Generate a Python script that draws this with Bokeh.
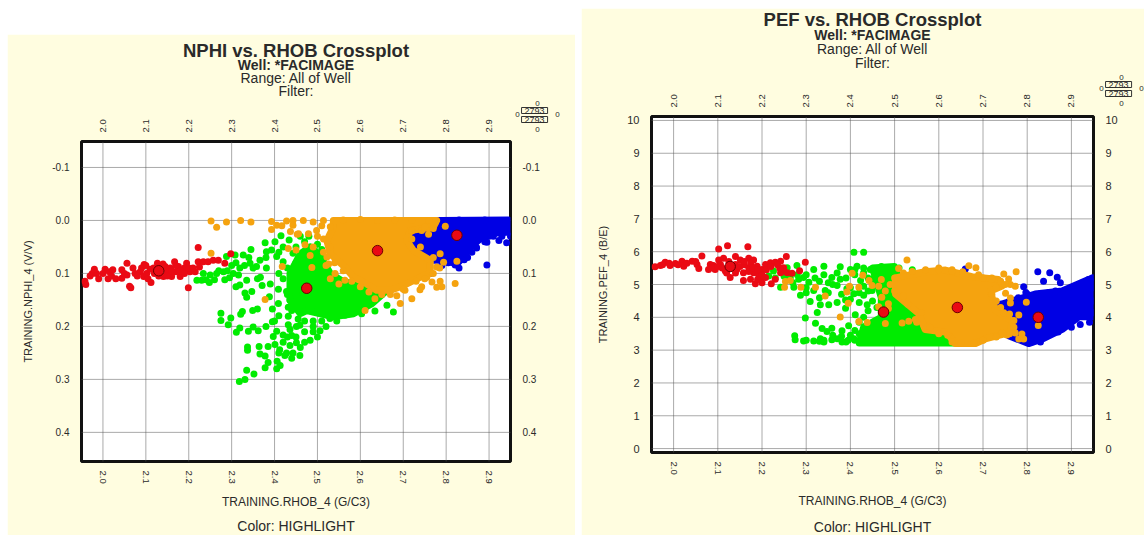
from bokeh.plotting import figure
from bokeh.layouts import row, column, Spacer
from bokeh.models import Range1d, LinearAxis, FixedTicker, Title
from bokeh.embed import file_html
from bokeh.resources import INLINE

RHOB_TICKS = [2.0, 2.1, 2.2, 2.3, 2.4, 2.5, 2.6, 2.7, 2.8, 2.9]
RHOB_LABELS = ["2.0", "2.1", "2.2", "2.3", "2.4", "2.5", "2.6", "2.7", "2.8", "2.9"]
NPHI_TICKS = [-0.1, 0.0, 0.1, 0.2, 0.3, 0.4]
NPHI_LABELS = ["-0.1", "0.0", "0.1", "0.2", "0.3", "0.4"]
PEF_TICKS = [0, 1, 2, 3, 4, 5, 6, 7, 8, 9, 10]
PEF_LABELS = ["0", "1", "2", "3", "4", "5", "6", "7", "8", "9", "10"]

# ---------- NPHI vs RHOB: (RHOB, NPHI) ----------
n_red = [(1.958,.115),(1.96,.121),(1.975,.10),(1.985,.10),(1.99,.11),(2.005,.092),(2.015,.097),(2.012,.11),(2.02,.105),
 (2.023,.093),(2.044,.093),(2.056,.081),(2.044,.109),(2.056,.103),(2.062,.124),(2.065,.127),(2.075,.10),(2.087,.097),
 (2.096,.083),(2.095,.106),(2.102,.10),(2.112,.117),(2.127,.081),(2.118,.09),(2.13,.095),(2.141,.106),(2.145,.087),
 (2.157,.09),(2.16,.106),(2.167,.078),(2.18,.106),(2.176,.087),(2.195,.081),(2.19,.09),(2.203,.097),(2.215,.097),
 (2.199,.127),(2.222,.051),(2.222,.078),(2.234,.078),(2.245,.078),(2.257,.075),(2.269,.075),(2.284,.081),(2.298,.063),
 (2.135,.09),(2.15,.097),(2.17,.097),(2.185,.098),(2.11,.092),
 (1.97,.105),(1.98,.092),(2.0,.1),(2.03,.11),(2.05,.1),(2.07,.09),(2.08,.105),(2.09,.09),(2.1,.085),(2.105,.11),(2.12,.1),
 (2.13,.105),(2.14,.082),(2.15,.105),(2.16,.095),(2.17,.085),(2.18,.095),(2.19,.1),(2.2,.09),(2.21,.09),(2.225,.088)]
n_green = [(2.219,.113),(2.23,.113),(2.248,.117),(2.234,.10),(2.25,.103),(2.265,.10),(2.281,.097),(2.284,.112),(2.295,.108),
 (2.304,.10),(2.319,.09),(2.316,.103),(2.288,.068),(2.308,.065),(2.327,.065),(2.345,.055),(2.343,.081),(2.366,.075),
 (2.358,.087),(2.378,.042),(2.401,.04),(2.415,.029),(2.434,.037),(2.381,.059),(2.393,.056),(2.405,.068),(2.381,.09),
 (2.42,.078),(2.443,.062),(2.367,.107),(2.371,.123),(2.335,.113),(2.319,.122),(2.31,.125),(2.331,.137),(2.347,.134),
 (2.335,.145),(2.388,.144),(2.409,.13),(2.428,.134),(2.443,.131),(2.436,.15),(2.409,.157),(2.432,.164),(2.451,.159),
 (2.395,.167),(2.36,.167),(2.349,.17),(2.325,.172),(2.321,.177),(2.275,.175),(2.275,.189),(2.298,.184),(2.292,.197),
 (2.395,.191),(2.432,.181),(2.455,.186),(2.432,.197),(2.339,.209),(2.35,.201),(2.362,.208),(2.319,.203),(2.311,.211),
 (2.405,.209),(2.42,.216),(2.436,.206),(2.451,.2),(2.397,.219),(2.337,.239),(2.337,.245),(2.364,.238),(2.385,.238),
 (2.401,.234),(2.412,.244),(2.428,.25),(2.443,.25),(2.451,.231),(2.366,.252),(2.378,.256),(2.385,.268),(2.406,.266),
 (2.378,.278),(2.405,.28),(2.335,.283),(2.352,.29),(2.331,.30),(2.318,.304),(2.634,.171),(2.662,.16),(2.677,.173),
 (2.603,.176),(2.459,.198),(2.506,.208),(2.483,.226),(2.529,.185),(2.564,.179),(2.436,.236),(2.459,.255),(2.424,.255),
 (2.413,.274),(2.47,.21),(2.44,.217),(2.52,.2),(2.49,.19),(2.545,.19),(2.41,.1),(2.43,.09),(2.45,.05),(2.47,.04),
 (2.41,.06),(2.42,.11),(2.44,.105),(2.45,.08),(2.46,.12),(2.43,.14),(2.45,.14),(2.41,.18),(2.44,.17),(2.47,.19),(2.49,.2),
 (2.51,.19),(2.54,.18),(2.57,.17),(2.6,.165),(2.63,.15),(2.65,.14),(2.48,.07),(2.50,.08),(2.52,.12),(2.42,.05),(2.46,.03),
 (2.48,.03),(2.5,.045),(2.51,.055),(2.38,.07),(2.36,.11),(2.39,.12),(2.4,.19),(2.38,.2),(2.42,.23),(2.41,.25),(2.43,.22),
 (2.45,.22),(2.47,.23),(2.49,.21),(2.5,.22),(2.44,.26),(2.46,.24),(2.24,.112),(2.26,.112),(2.27,.095),(2.29,.095),(2.3,.085),
 (2.31,.08),(2.33,.085),(2.34,.07),(2.35,.09)]
n_orange = [(2.252,.001),(2.265,.013),(2.288,.003),(2.321,0),(2.345,.003),(2.393,.002),(2.405,.009),(2.417,.01),(2.428,.001),
 (2.443,0),(2.443,.009),(2.393,.017),(2.437,.021),(2.453,.026),(2.252,.062),(2.418,.087),(2.378,.149),(2.432,.053),
 (2.45,.056),(2.467,0),(2.49,.003),(2.514,0),(2.456,.025),(2.479,.025),(2.498,.019),(2.471,.046),(2.483,.066),(2.514,.06),
 (2.514,.035),(2.522,.069),(2.526,.082),(2.541,.10),(2.487,.089),(2.564,.113),(2.634,.148),(2.611,.17),(2.693,.157),
 (2.72,.148),(2.685,.142),(2.704,.132),(2.743,.125),(2.739,.131),(2.778,.126),(2.79,.125),(2.821,.119),(2.786,.115),
 (2.767,.116),(2.755,.107),(2.759,.026),(2.743,.019),(2.798,.011),(2.786,.063),(2.825,.077),(2.778,.088),(2.794,.079),
 (2.56,-.001),(2.6,-.002),(2.64,0),(2.68,-.001),(2.72,0),(2.76,0),(2.775,.003),(2.53,.012),
 (2.53,.05),(2.54,.08),(2.56,.095),(2.58,.115),(2.6,.125),(2.62,.135),(2.65,.14),(2.67,.14),(2.7,.13),(2.73,.115),(2.75,.11),
 (2.77,.1),(2.785,.09),(2.77,.07),(2.74,.05),(2.72,.035),(2.72,.02),(2.75,.012),(2.77,.015),(2.51,.01),(2.5,.03),(2.49,.05),
 (2.52,.085),(2.53,.11),(2.55,.12)]
n_blue = [(2.895,.084),(2.941,.042),(2.923,.038),(2.895,.041),(2.871,.052),(2.842,.074),(2.821,.084),(2.763,.10),
 (2.8,0),(2.83,-.001),(2.86,0),(2.89,-.001),(2.92,0),(2.94,.002),(2.925,.015),(2.86,.06),(2.9,.03),(2.805,.08),
 (2.73,.055),(2.75,.07),(2.79,.085),(2.83,.09),(2.85,.07),(2.87,.05),(2.89,.04),(2.91,.03),(2.93,.03),(2.95,.03),(2.71,.03),
 (2.72,.05),(2.74,.015)]
n_orange_core = [(2.537,0),(2.778,0),(2.77,.0126),(2.716,.019),(2.708,.038),(2.724,.057),(2.763,.075),(2.763,.10),(2.747,.104),
 (2.70,.123),(2.669,.132),(2.638,.132),(2.615,.12),(2.584,.107),(2.564,.088),(2.53,.063),(2.522,.038),(2.537,.0126)]
n_blue_core = [(2.712,.025),(2.755,.003),(2.786,0),(2.945,-.001),(2.948,.022),(2.91,.024),(2.879,.035),(2.856,.05),(2.84,.069),
 (2.825,.082),(2.794,.075),(2.77,.075),(2.747,.063),(2.716,.047)]
n_green_core = [(2.436,.10),(2.46,.063),(2.483,.05),(2.506,.066),(2.53,.10),(2.561,.116),(2.615,.123),(2.662,.132),(2.627,.157),
 (2.584,.176),(2.537,.182),(2.475,.17),(2.46,.176),(2.436,.151)]
n_centers = [(2.13,.095),(2.475,.128),(2.64,.057),(2.825,.028)]

# ---------- PEF vs RHOB: (RHOB, PEF) ----------
f_red = [(1.958,5.54),(1.97,5.58),(1.981,5.68),(1.992,5.58),(2.004,5.64),(2.019,5.71),(2.023,5.56),(2.042,5.71),(2.053,5.61),
 (2.057,5.49),(2.064,5.87),(2.083,5.61),(2.079,5.46),(2.102,6.08),(2.122,6.18),(2.168,6.15),(2.102,5.75),(2.113,5.8),
 (2.094,5.46),(2.106,5.61),(2.117,5.41),(2.128,5.21),(2.14,5.85),(2.143,5.46),(2.158,5.36),(2.158,5.12),(2.151,5.75),
 (2.17,5.8),(2.181,5.75),(2.17,5.51),(2.189,5.56),(2.181,5.36),(2.174,5.16),(2.185,5.02),(2.196,5.16),(2.2,5.46),
 (2.208,5.61),(2.219,5.66),(2.23,5.68),(2.242,5.71),(2.255,5.85),(2.208,5.21),(2.23,5.16),(2.221,5.02),(2.249,5.41),
 (2.242,5.36),(2.257,5.36),(2.249,5.51),(2.268,5.34),(2.285,5.42),(2.298,5.68),(2.14,5.61),(2.125,5.7),(2.192,5.31),
 (2.09,5.58),(2.13,5.5),(2.16,5.6),(2.175,5.65),
 (1.975,5.6),(1.99,5.65),(2.01,5.6),(2.03,5.65),(2.05,5.7),(2.09,5.5),(2.1,5.55),(2.11,5.5),(2.12,5.35),(2.14,5.35),(2.15,5.55),
 (2.16,5.7),(2.17,5.4),(2.18,5.5),(2.19,5.45),(2.2,5.3),(2.19,5.15),(2.2,5.05),(2.21,5.45),(2.22,5.55),(2.24,5.5),(2.235,5.6)]
f_green = [(2.408,5.98),(2.43,5.98),(2.215,5.26),(2.226,5.41),(2.242,4.92),(2.257,5.51),(2.279,5.58),(2.264,5.21),(2.272,4.92),
 (2.283,5.16),(2.294,5.21),(2.317,5.46),(2.34,5.56),(2.306,5.07),(2.287,4.67),(2.317,4.82),(2.309,4.48),(2.332,4.38),
 (2.351,4.38),(2.325,4.15),(2.298,3.98),(2.321,3.82),(2.377,5.54),(2.4,5.46),(2.358,5.21),(2.377,5.16),(2.37,4.97),
 (2.392,4.87),(2.343,4.82),(2.389,4.53),(2.389,4.28),(2.411,4.08),(2.396,3.74),(2.336,3.66),(2.347,3.57),(2.358,3.67),
 (2.381,3.59),(2.274,3.44),(2.275,3.32),(2.294,3.28),(2.317,3.28),(2.332,3.35),(2.34,3.25),(2.358,3.32),(2.381,3.25),
 (2.395,3.3),(2.408,3.35),(2.415,5.56),(2.43,5.36),(2.423,5.12),(2.408,4.72),(2.438,4.38),(2.445,5.46),(2.449,5.16),
 (2.43,4.67),(2.449,4.82),(2.33,5.1),(2.3,5.3),(2.36,5.0),(2.41,5.3),(2.43,4.95),(2.4,4.55),(2.3,4.75),(2.33,4.6),
 (2.27,5.05),(2.51,5.5),(2.54,5.45),(2.47,5.55),
 (2.3,4.9),(2.34,5.3),(2.37,5.35),(2.39,5.2),(2.41,5.45),(2.43,5.5),(2.44,5.2),(2.45,5.0),(2.44,4.8),(2.42,4.75),(2.45,4.5),
 (2.46,4.3),(2.44,4.2),(2.43,4.0),(2.42,3.85),(2.41,3.6),(2.4,3.45),(2.38,3.42),(2.36,3.45),(2.42,4.45),(2.35,5.05),(2.32,5.2),
 (2.28,5.3),(2.25,5.25),(2.23,5.2),(2.35,4.75),(2.38,4.7),(2.37,4.45),(2.4,4.9),(2.34,3.3),(2.3,3.3),(2.33,3.27),(2.37,3.35),
 (2.39,3.25),(2.41,3.3),(2.42,3.5),(2.47,5.3),(2.48,5.0),(2.52,5.0),(2.51,4.7),(2.55,4.6),(2.53,4.5),(2.56,4.3),(2.57,4.1),
 (2.56,3.95),(2.55,3.7),(2.58,3.6),(2.6,3.55),(2.62,3.4)]
f_orange = [(2.253,5.09),(2.264,5.12),(2.251,4.92),(2.288,4.92),(2.321,4.92),(2.343,4.65),(2.404,5.34),(2.428,5.28),(2.392,4.77),
 (2.398,4.95),(2.419,4.92),(2.395,4.43),(2.377,4.01),(2.419,3.87),(2.438,3.84),(2.442,5.12),(2.449,4.97),(2.528,5.75),
 (2.509,5.49),(2.464,4.95),(2.479,4.8),(2.471,4.61),(2.486,4.41),(2.486,4.27),(2.464,4.32),(2.479,3.81),(2.517,3.83),
 (2.532,3.88),(2.547,3.93),(2.668,5.57),(2.684,5.51),(2.654,5.39),(2.747,5.32),(2.775,5.39),(2.758,5.17),(2.762,5.0),
 (2.773,4.95),(2.751,4.73),(2.762,4.59),(2.762,4.44),(2.798,4.46),(2.747,4.14),(2.781,4.07),(2.825,3.75),(2.743,3.54),
 (2.754,3.46),(2.773,3.52),(2.788,3.49),(2.781,3.34),(2.792,3.34),(2.52,5.35),(2.6,5.5),(2.63,5.45),(2.7,5.2),(2.72,5.2),
 (2.5,5.2),(2.52,5.25),(2.54,5.4),(2.57,5.45),(2.6,5.45),(2.63,5.4),(2.66,5.25),(2.69,5.3),(2.72,5.15),(2.74,5.1),(2.75,5.0),
 (2.73,4.9),(2.72,4.7),(2.73,4.5),(2.74,4.3),(2.76,4.1),(2.77,3.9),(2.77,3.7),(2.76,3.5),(2.73,3.4),(2.7,3.3),(2.68,3.22),
 (2.65,3.22),(2.63,3.25),(2.62,3.45),(2.6,3.5),(2.58,3.7),(2.55,3.85),(2.56,4.15),(2.53,4.4),(2.52,4.65),(2.5,4.8),(2.49,5.0),
 (2.47,5.15)]
f_blue = [(2.66,5.47),(2.719,4.76),(2.721,4.51),(2.792,4.93),(2.797,4.76),(2.824,5.39),(2.851,5.36),(2.868,5.22),(2.837,5.1),
 (2.875,5.05),(2.92,3.78),(2.941,3.85),(2.849,4.76),(2.864,4.8),(2.886,4.8),(2.905,4.82),(2.92,4.95),(2.939,5.15),
 (2.947,5.2),(2.9,3.7),(2.87,3.55),(2.83,3.25),
 (2.74,4.4),(2.76,4.5),(2.78,4.6),(2.8,4.7),(2.83,4.72),(2.85,4.7),(2.88,4.7),(2.9,4.7),(2.92,4.8),(2.93,5.0),(2.945,5.1),
 (2.95,4.9),(2.95,4.5),(2.95,4.15),(2.93,4.15),(2.91,4.0),(2.89,3.8),(2.87,3.65),(2.85,3.5),(2.83,3.35),(2.81,3.25),(2.79,3.3),
 (2.77,3.4),(2.9,4.3)]
f_orange_core = [(2.502,5.2),(2.569,5.39),(2.615,5.44),(2.675,5.24),(2.735,5.15),(2.743,4.95),(2.717,4.8),(2.728,4.22),(2.766,3.88),
 (2.762,3.54),(2.705,3.34),(2.683,3.2),(2.637,3.2),(2.618,3.54),(2.569,3.63),(2.554,4.12),(2.502,4.71)]
f_blue_core = [(2.735,4.37),(2.818,4.71),(2.879,4.8),(2.939,5.15),(2.95,5.2),(2.95,4.02),(2.917,4.02),(2.879,3.63),(2.834,3.34),
 (2.803,3.2),(2.758,3.44),(2.743,4.02)]
f_green_core = [(2.45,5.5),(2.5,5.55),(2.51,5.1),(2.56,4.71),(2.57,4.2),(2.57,3.63),(2.618,3.63),(2.637,3.22),(2.42,3.22),
 (2.43,3.7),(2.47,4.0),(2.47,4.6)]
f_centers = [(2.128,5.55),(2.475,4.16),(2.642,4.3),(2.825,4.0)]

RED, GREEN, ORANGE, BLUE = "#EA0A14", "#00EC00", "#F5A30F", "#0000E4"
CREAM = "#FFFDE0"
TEXT = "#2a2a2a"
FONT = "Liberation Sans"
BOX = "2793"
AXIS_BAND = 24


def xs(v):
    return [a for a, b in v]


def ys(v):
    return [b for a, b in v]


def panel(origin, size, frame, yrange, yticks, ylabels, ylab, yfont, layers, centers, top, gap_to, bottom, box):
    ox, oy = origin
    w, h = size
    l, t, r, b = frame
    fl, ft, fr, fb = l - ox, t - oy, r - ox, b - oy
    p = figure(width=w, height=h, output_backend="svg", toolbar_location=None,
               x_range=Range1d(1.95, 2.95), y_range=Range1d(*yrange),
               min_border_left=fl, min_border_top=ft, min_border_right=w - fr, min_border_bottom=h - fb,
               background_fill_color="white", border_fill_color=CREAM,
               outline_line_color="#111111", outline_line_width=3, x_axis_location=None, y_axis_location=None)
    p.xgrid.visible = False
    p.ygrid.visible = False

    overx = dict(zip(RHOB_TICKS, RHOB_LABELS))
    overy = dict(zip(yticks, ylabels))
    for side in ("above", "below"):
        a = LinearAxis(ticker=FixedTicker(ticks=RHOB_TICKS), major_label_overrides=overx,
                       major_label_orientation="vertical", major_label_text_font=FONT,
                       major_label_text_font_size="9.5px", major_label_text_color=TEXT,
                       axis_line_color=None, major_tick_line_color=None, minor_tick_line_color=None,
                       major_label_standoff=3)
        p.add_layout(a, side)
    for side in ("left", "right"):
        a = LinearAxis(ticker=FixedTicker(ticks=yticks), major_label_overrides=overy,
                       major_label_orientation="horizontal", major_label_text_font=FONT,
                       major_label_text_font_size=yfont, major_label_text_color=TEXT,
                       axis_line_color=None, major_tick_line_color=None, minor_tick_line_color=None,
                       major_label_standoff=6)
        if side == "left":
            a.axis_label = ylab
            a.axis_label_text_font = FONT
            a.axis_label_text_font_style = "normal"
            a.axis_label_text_font_size = "11px"
            a.axis_label_text_color = TEXT
            a.axis_label_standoff = 15
        p.add_layout(a, side)
    for tick in RHOB_TICKS:
        p.line([tick, tick], list(yrange), line_color="#555555", line_width=1, line_dash="1 1")
    for tick in yticks:
        p.line([1.95, 2.95], [tick, tick], line_color="#555555", line_width=1, line_dash="1 1")
    for core, pts, col in layers:
        if core:
            p.patch(xs(core), ys(core), fill_color=col, line_color=col, line_width=7, line_join="round")
        p.scatter(xs(pts), ys(pts), size=7, fill_color=col, line_color=None)
    p.scatter(xs(centers), ys(centers), size=10.5, fill_color=RED, line_color="#6a0000", line_width=1)

    def add(text, sz, bold, x, extra, band, side):
        # a text in the side panel: its standoff sets the height of its band
        kw = dict(extra)
        if x is None:
            kw.update(align="center", offset=0)
        else:
            kw.update(align="right", offset=r - (x + 0.28 * sz * len(text)))
        p.add_layout(Title(text=text, text_font=FONT, text_font_size=f"{sz}px", text_color=TEXT,
                           text_font_style="bold" if bold else "normal",
                           standoff=round(band - 1.3 * sz), **kw), side)

    def stack(items, start, side):
        cur = start
        sign = 1 if side == "above" else -1
        for (y, s, sz, bold, x, extra) in items:
            band = 2 * (cur - y) * sign
            add(s, sz, bold, x, extra, band, side)
            cur = cur - sign * max(band, 0)
        return cur

    start = t - AXIS_BAND
    add(" ", 8, False, None, {}, start - gap_to, "above")
    cur = stack([(y, s, sz, bd, None, {}) for (y, s, sz, bd) in top], gap_to, "above")
    bx, by = box
    cell = dict(border_line_color="#333333", background_fill_color=CREAM, padding=(3, 0))
    stack([(by + 19, "0", 8, False, bx, {}), (by + 9, BOX, 9, False, bx, cell), (by + 4.5, "0", 8, False, bx - 20, {}),
           (by + 4.5, "0", 8, False, bx + 20, {}), (by, BOX, 9, False, bx, cell), (by - 7, "0", 8, False, bx, {})],
          cur, "above")
    stack([(y, s, sz, False, None, {}) for (y, s, sz) in bottom], b + AXIS_BAND, "below")
    return p


p1 = panel((7, 34), (568, 501), (81, 141, 510, 461), (0.455, -0.149), NPHI_TICKS, NPHI_LABELS, "TRAINING.NPHI_4 (V/V)", "10px",
           [(n_blue_core, n_blue, BLUE), (n_green_core, n_green, GREEN), (n_orange_core, n_orange, ORANGE), (None, n_red, RED)],
           n_centers,
           [(91, "Filter:", 14, False), (78, "Range: All of Well", 14, False),
            (65, "Well: *FACIMAGE", 14, True), (50, "NPHI vs. RHOB Crossplot", 18.5, True)], 96,
           [(499, "TRAINING.RHOB_4 (G/C3)", 12), (523.5, "Color: HIGHLIGHT", 14)], (537, 108))

p2 = panel((581, 8), (563, 527), (651, 115, 1093, 452), (-0.12, 10.12), PEF_TICKS, PEF_LABELS, "TRAINING.PEF_4 (B/E)", "11px",
           [(f_blue_core, f_blue, BLUE), (f_green_core, f_green, GREEN), (f_orange_core, f_orange, ORANGE), (None, f_red, RED)],
           f_centers,
           [(62, "Filter:", 14, False), (48, "Range: All of Well", 14, False),
            (34, "Well: *FACIMAGE", 14, True), (18, "PEF vs. RHOB Crossplot", 18.5, True)], 68,
           [(498, "TRAINING.RHOB_4 (G/C3)", 12), (524, "Color: HIGHLIGHT", 14)], (1121, 81))

page = row(Spacer(width=7), column(Spacer(height=34), p1), Spacer(width=6), column(Spacer(height=8), p2))
open("out.html", "w").write(file_html(page, INLINE))
